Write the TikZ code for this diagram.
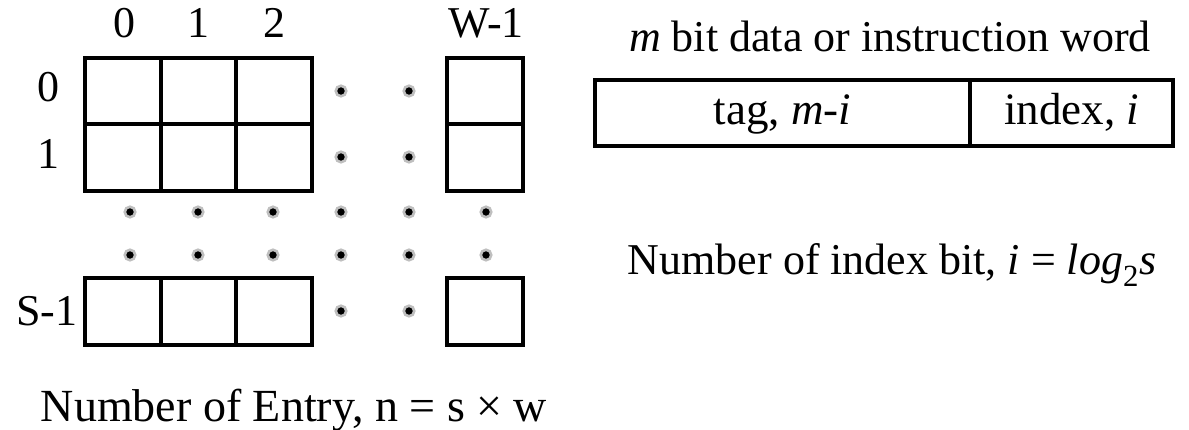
\documentclass[tikz,border=0pt]{standalone}
\usepackage{fontspec}
\setmainfont{Liberation Serif}
\begin{document}
\begin{tikzpicture}[x=1pt,y=-1pt,
  cell/.style={draw, line width=4pt, minimum width=75.5pt, minimum height=66.5pt, inner sep=0pt},
  wordbox/.style={draw, line width=4pt, minimum height=66pt, inner sep=0pt,
    font=\fontsize{45}{52}\selectfont, text height=31pt, text depth=9pt},
  dotnode/.style={circle, fill=black, draw=black!25, line width=2.6pt, minimum size=10.5pt, inner sep=0pt},
  lbl/.style={font=\fontsize{44}{50}\selectfont, anchor=base, inner sep=0pt}]
\useasboundingbox[fill=white] (0,0) rectangle (1189,430);

% column labels
\node[lbl] (c0) at (124,38) {0};
\node[lbl] (c1) at (198,38) {1};
\node[lbl] (c2) at (274,38) {2};
\node[lbl] (cw) at (486,38) {W-1};
% row labels
\node[lbl] (r0) at (48,102) {0};
\node[lbl] (r1) at (48,169) {1};
\node[lbl] (rs) at (47,326) {S-1};

% grid cells
\foreach \cx [count=\i] in {122.75,198.25,273.75,485} {
  \node[cell] (a\i) at (\cx,91.25) {};
  \node[cell] (b\i) at (\cx,157.75) {};
  \node[cell] (s\i) at (\cx,311.5) {};
}

% dots
\foreach \dx [count=\i] in {341,409} {
  \node[dotnode] (p\i) at (\dx,91) {};
  \node[dotnode] (q\i) at (\dx,157) {};
  \node[dotnode] (t\i) at (\dx,311) {};
}
\foreach \dx [count=\i] in {130,198,273,341,409,486} {
  \node[dotnode] (u\i) at (\dx,212) {};
  \node[dotnode] (v\i) at (\dx,255) {};
}

% bottom caption
\node[lbl, font=\fontsize{46}{52}\selectfont] (entry) at (294,421) {Number of Entry, n = s × w};

% right side
\node[lbl] (word) at (890,52) {\textit{m} bit data or instruction word};
\node[wordbox, minimum width=375pt] (tag) at (782.5,113.5) {tag, \textit{m-i}};
\node[wordbox, minimum width=203pt] (index) at (1071.5,113.5) {index, \textit{i}};
\node[lbl] (nbits) at (892,275) {Number of index bit, \textit{i} = \textit{log}\textsubscript{2}\textit{s}};
\end{tikzpicture}
\end{document}
